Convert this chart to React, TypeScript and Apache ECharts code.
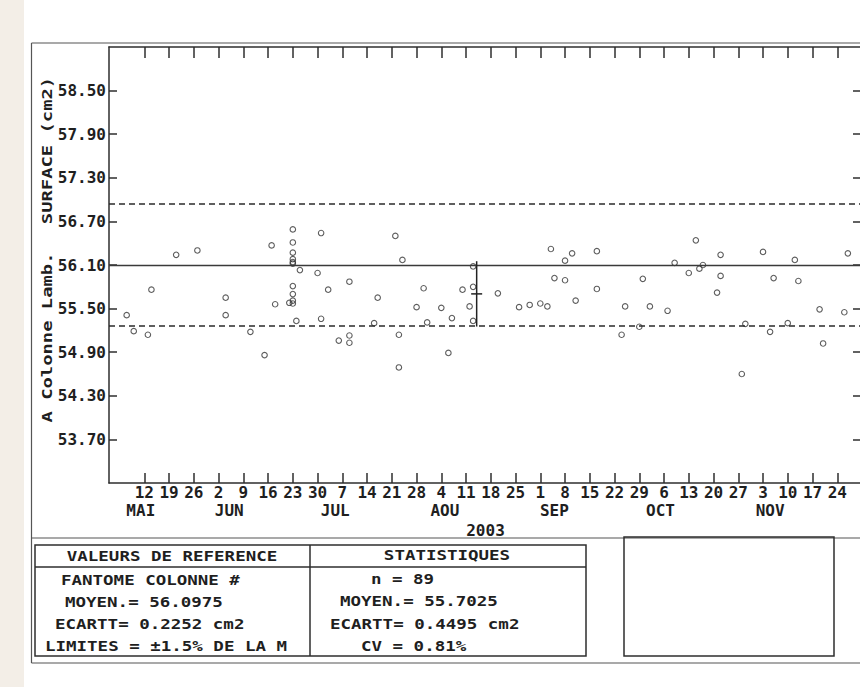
import React, { useEffect, useRef } from 'react';
import * as echarts from 'echarts';

// ---------- data ----------
const YEAR = 2003;
const AXIS_START = '05-02';
const AXIS_END = '12-01';

const pointDates = [
  '05-07', '05-09', '05-13', '05-14', '05-21', '05-27', '06-04', '06-04', '06-11', '06-15',
  '06-17', '06-18', '06-22', '06-23', '06-23', '06-23', '06-23', '06-23', '06-23', '06-23',
  '06-23', '06-23', '06-23', '06-24', '06-25', '06-30', '07-01', '07-01', '07-03', '07-06',
  '07-09', '07-09', '07-09', '07-16', '07-17', '07-22', '07-23', '07-23', '07-24', '07-28',
  '07-30', '07-31', '08-04', '08-06', '08-07', '08-10', '08-12', '08-13', '08-13', '08-13',
  '08-20', '08-26', '08-29', '09-01', '09-03', '09-04', '09-05', '09-08', '09-08', '09-10',
  '09-11', '09-17', '09-17', '09-24', '09-25', '09-29', '09-30', '10-02', '10-07', '10-09',
  '10-13', '10-15', '10-16', '10-17', '10-21', '10-22', '10-22', '10-28', '10-29', '11-03',
  '11-05', '11-06', '11-10', '11-12', '11-13', '11-19', '11-20', '11-26', '11-27',
];
const pointValues = [
  55.41, 55.19, 55.14, 55.76, 56.24, 56.30, 55.41, 55.65, 55.18, 54.86,
  56.37, 55.56, 55.58, 56.59, 56.41, 56.27, 56.18, 56.14, 56.12, 55.81,
  55.70, 55.61, 55.57, 55.33, 56.03, 55.99, 56.54, 55.36, 55.76, 55.06,
  55.13, 55.03, 55.87, 55.30, 55.65, 56.50, 55.14, 54.69, 56.17, 55.52,
  55.78, 55.31, 55.51, 54.89, 55.37, 55.76, 55.53, 56.08, 55.80, 55.33,
  55.71, 55.52, 55.55, 55.57, 55.53, 56.32, 55.92, 55.89, 56.16, 56.26,
  55.61, 55.77, 56.29, 55.14, 55.53, 55.25, 55.91, 55.53, 55.47, 56.13,
  55.99, 56.44, 56.05, 56.10, 55.72, 56.24, 55.95, 54.60, 55.29, 56.28,
  55.18, 55.92, 55.30, 56.17, 55.88, 55.49, 55.02, 55.45, 56.26,
];

const weekTickDates = [
  '05-12', '05-19', '05-26', '06-02', '06-09', '06-16', '06-23', '06-30', '07-07', '07-14',
  '07-21', '07-28', '08-04', '08-11', '08-18', '08-25', '09-01', '09-08', '09-15', '09-22',
  '09-29', '10-06', '10-13', '10-20', '10-27', '11-03', '11-10', '11-17', '11-24',
];
const monthLabels = ['MAI', 'JUN', 'JUL', 'AOU', 'SEP', 'OCT', 'NOV'];
const monthLabelDates = ['05-11', '06-05', '07-05', '08-05', '09-05', '10-05', '11-05'];

const yTickLabels = ['53.70', '54.30', '54.90', '55.50', '56.10', '56.70', '57.30', '57.90', '58.50'];
const Y_MIN = 53.1;
const Y_MAX = 59.1;

const REF_MEAN = 56.0975;
const REF_SD = 0.2252;
const LIMIT_PCT = 1.5;

const STAT_N = 89;
const STAT_MEAN = 55.7025;
const STAT_SD = 0.4495;
const STAT_CV = 0.81;
const STAT_MARK_DATE = '08-14';

const yTitleTop = 'SURFACE (cm2)';
const yTitleBottom = 'A Colonne Lamb.';

// ---------- helpers ----------
const DAY = 86400000;
const YEAR0 = Date.UTC(YEAR, 0, 1);
function dayIndex(md: string): number {
  const [m, d] = md.split('-').map(Number);
  return Math.round((Date.UTC(YEAR, m - 1, d) - YEAR0) / DAY);
}
function dayOfMonth(idx: number): number {
  return new Date(YEAR0 + Math.round(idx) * DAY).getUTCDate();
}

const FONT = '"DejaVu Sans Mono", "Liberation Mono", monospace';
const INK = '#1f1f1f';
const LINE = '#2e2e2e';

function tableText(text: string, x: number, y: number, align: 'left' | 'center' = 'left') {
  return {
    type: 'text',
    x,
    y,
    scaleX: 1.25,
    silent: true,
    style: {
      text,
      x: 0,
      y: 0,
      fill: INK,
      fontFamily: FONT,
      fontWeight: 'bold',
      fontSize: 14,
      align,
      verticalAlign: 'middle',
    },
  };
}

function hline(x1: number, x2: number, y: number, w = 1.5, c = LINE) {
  return { type: 'line', silent: true, shape: { x1, y1: y, x2, y2: y }, style: { stroke: c, lineWidth: w } };
}
function vline(x: number, y1: number, y2: number, w = 1.5, c = LINE) {
  return { type: 'line', silent: true, shape: { x1: x, y1, x2: x, y2 }, style: { stroke: c, lineWidth: w } };
}

export default function App() {
  const ref = useRef<HTMLDivElement>(null);

  useEffect(() => {
    if (!ref.current) return;
    const chart = echarts.init(ref.current, undefined, { renderer: 'svg' });

    const xMin = dayIndex(AXIS_START);
    const xMax = dayIndex(AXIS_END);
    const weekTicks = weekTickDates.map(dayIndex);
    const monthTicks = monthLabelDates.map(dayIndex);
    const yTicks = yTickLabels.map(Number);
    const upper = REF_MEAN * (1 + LIMIT_PCT / 100);
    const lower = REF_MEAN * (1 - LIMIT_PCT / 100);

    const labelFont = { fontFamily: FONT, fontWeight: 'bold' as const, fontSize: 16, color: INK };

    const option: any = {
      animation: false,
      backgroundColor: '#ffffff',
      grid: {
        left: 109,
        top: 47,
        right: -2,
        bottom: 204,
        containLabel: false,
        outerBoundsMode: 'none',
      },
      xAxis: [
        {
          type: 'value',
          position: 'bottom',
          min: xMin,
          max: xMax,
          axisLine: { show: true, onZero: false, lineStyle: { color: LINE, width: 1.5 } },
          axisTick: { show: true, inside: true, length: 10, customValues: weekTicks, lineStyle: { color: LINE, width: 1.5 } },
          axisLabel: {
            show: true,
            customValues: weekTicks,
            margin: 1,
            formatter: (v: number) => String(dayOfMonth(v)),
            ...labelFont,
          },
          splitLine: { show: false },
        },
        {
          type: 'value',
          position: 'bottom',
          offset: 18,
          min: xMin,
          max: xMax,
          axisLine: { show: false, onZero: false },
          axisTick: { show: false },
          axisLabel: {
            show: true,
            customValues: monthTicks,
            margin: 1,
            formatter: (v: number) => monthLabels[monthTicks.indexOf(Math.round(v))] ?? '',
            ...labelFont,
          },
          splitLine: { show: false },
          name: String(YEAR),
          nameLocation: 'middle',
          nameGap: 14,
          nameTextStyle: { ...labelFont },
        },
        {
          type: 'value',
          position: 'top',
          min: xMin,
          max: xMax,
          axisLine: { show: true, onZero: false, lineStyle: { color: LINE, width: 1.5 } },
          axisTick: { show: true, inside: true, length: 11, customValues: weekTicks, lineStyle: { color: LINE, width: 1.5 } },
          axisLabel: { show: false },
          splitLine: { show: false },
        },
      ],
      yAxis: [
        {
          type: 'value',
          position: 'left',
          min: Y_MIN,
          max: Y_MAX,
          axisLine: { show: true, onZero: false, lineStyle: { color: LINE, width: 1.5 } },
          axisTick: { show: true, inside: true, length: 8, customValues: yTicks, lineStyle: { color: LINE, width: 1.5 } },
          axisLabel: {
            show: true,
            customValues: yTicks,
            margin: 3,
            formatter: (v: number) => v.toFixed(2),
            ...labelFont,
          },
          splitLine: { show: false },
        },
        {
          type: 'value',
          position: 'right',
          min: Y_MIN,
          max: Y_MAX,
          axisLine: { show: true, onZero: false, lineStyle: { color: LINE, width: 1.5 } },
          axisTick: { show: true, inside: true, length: 9, customValues: yTicks, lineStyle: { color: LINE, width: 1.5 } },
          axisLabel: { show: false },
          splitLine: { show: false },
        },
      ],
      series: [
        {
          type: 'scatter',
          xAxisIndex: 0,
          yAxisIndex: 0,
          data: pointDates.map((d, i) => [dayIndex(d), pointValues[i]]),
          symbol: 'circle',
          symbolSize: 5.5,
          itemStyle: { color: 'rgba(0,0,0,0)', borderColor: '#333333', borderWidth: 1.1 },
          silent: true,
          z: 4,
          markLine: {
            silent: true,
            symbol: ['none', 'none'],
            label: { show: false },
            data: [
              { yAxis: REF_MEAN, lineStyle: { type: 'solid', color: '#3a3a3a', width: 1.3 } },
              { yAxis: upper, lineStyle: { type: [6, 4], color: '#2a2a2a', width: 1.6 } },
              { yAxis: lower, lineStyle: { type: [6, 4], color: '#2a2a2a', width: 1.6 } },
            ],
          },
        },
        {
          type: 'custom',
          xAxisIndex: 0,
          yAxisIndex: 0,
          silent: true,
          z: 5,
          data: [[dayIndex(STAT_MARK_DATE), STAT_MEAN, STAT_SD]],
          renderItem: (_params: any, api: any) => {
            const x = api.value(0);
            const m = api.value(1);
            const s = api.value(2);
            const top = api.coord([x, m + s]);
            const bot = api.coord([x, m - s]);
            const mid = api.coord([x, m]);
            return {
              type: 'group',
              children: [
                { type: 'line', shape: { x1: top[0], y1: top[1], x2: bot[0], y2: bot[1] }, style: { stroke: '#222', lineWidth: 1.5 } },
                { type: 'line', shape: { x1: mid[0] - 5.5, y1: mid[1], x2: mid[0] + 5.5, y2: mid[1] }, style: { stroke: '#222', lineWidth: 1.5 } },
              ],
            };
          },
        },
      ],
      graphic: [
        // scanned page margin
        { type: 'rect', silent: true, z: -10, shape: { x: 0, y: 0, width: 24, height: 687 }, style: { fill: '#f3eee7' } },
        // outer frame
        vline(31.5, 43, 663, 1.2, '#555'),
        hline(31.5, 860, 43, 1.2, '#555'),
        hline(31.5, 860, 538, 1.2, '#555'),
        hline(31.5, 860, 663, 1.2, '#555'),
        // y axis title
        {
          type: 'text', x: 47, y: 150.5, rotation: Math.PI / 2, scaleX: 1.3, silent: true,
          style: { text: yTitleTop, x: 0, y: 0, fill: INK, fontFamily: FONT, fontWeight: 'bold', fontSize: 14.5, align: 'center', verticalAlign: 'middle' },
        },
        {
          type: 'text', x: 47, y: 337.5, rotation: Math.PI / 2, scaleX: 1.3, silent: true,
          style: { text: yTitleBottom, x: 0, y: 0, fill: INK, fontFamily: FONT, fontWeight: 'bold', fontSize: 14.5, align: 'center', verticalAlign: 'middle' },
        },
        // table
        { type: 'rect', silent: true, shape: { x: 35, y: 545, width: 551, height: 111 }, style: { fill: 'none', stroke: LINE, lineWidth: 1.5 } },
        vline(310, 545, 656),
        hline(35, 586, 567),
        // empty box on the right
        { type: 'rect', silent: true, shape: { x: 624, y: 537, width: 210, height: 119 }, style: { fill: 'none', stroke: LINE, lineWidth: 1.5 } },
        tableText('VALEURS DE REFERENCE', 172, 556, 'center'),
        tableText('FANTOME COLONNE #', 61, 580.5),
        tableText(`MOYEN.= ${REF_MEAN.toFixed(4)}`, 65, 602),
        tableText(`ECARTT= ${REF_SD.toFixed(4)} cm2`, 55, 624),
        tableText(`LIMITES = \u00b1${LIMIT_PCT.toFixed(1)}% DE LA M`, 45, 646.5),
        tableText('STATISTIQUES', 447, 555.5, 'center'),
        tableText(`n = ${STAT_N}`, 371, 579.5),
        tableText(`MOYEN.= ${STAT_MEAN.toFixed(4)}`, 340, 601.5),
        tableText(`ECARTT= ${STAT_SD.toFixed(4)} cm2`, 330, 624),
        tableText(`CV = ${STAT_CV.toFixed(2)}%`, 361, 646),
      ],
    };

    chart.setOption(option);
    return () => {
      chart.dispose();
    };
  }, []);

  return (
    <div
      ref={ref}
      style={{ position: 'fixed', left: 0, top: 0, width: 860, height: 687, background: '#ffffff' }}
    />
  );
}
